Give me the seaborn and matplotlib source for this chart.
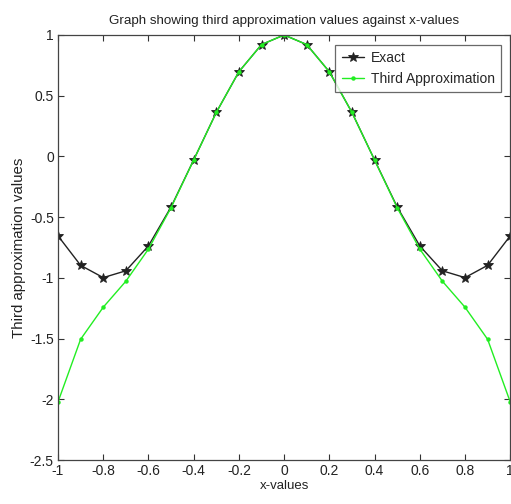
import matplotlib
matplotlib.use("Agg")
import matplotlib.pyplot as plt
import seaborn as sns
import pandas as pd

x_values = [-1.0, -0.9, -0.8, -0.7, -0.6, -0.5, -0.4, -0.3, -0.2, -0.1, 0.0,
            0.1, 0.2, 0.3, 0.4, 0.5, 0.6, 0.7, 0.8, 0.9, 1.0]
exact = [-0.654, -0.897, -0.998, -0.942, -0.737, -0.416, -0.029, 0.362, 0.697, 0.921, 1.0,
         0.921, 0.697, 0.362, -0.029, -0.416, -0.737, -0.942, -0.998, -0.897, -0.654]
third_approx = [-2.022, -1.506, -1.242, -1.028, -0.763, -0.422, -0.030, 0.362, 0.697, 0.921, 1.0,
                0.921, 0.697, 0.362, -0.030, -0.422, -0.763, -1.028, -1.242, -1.506, -2.022]
x_ticks = [-1, -0.8, -0.6, -0.4, -0.2, 0, 0.2, 0.4, 0.6, 0.8, 1]
y_ticks = [-2.5, -2, -1.5, -1, -0.5, 0, 0.5, 1]

sns.set_style("ticks")
plt.rcParams["font.family"] = ["Liberation Sans", "DejaVu Sans"]
plt.rcParams["xtick.direction"] = "in"
plt.rcParams["ytick.direction"] = "in"

df = pd.DataFrame({"x": x_values, "Exact": exact, "Third Approximation": third_approx})

fig = plt.figure(figsize=(5.11, 5.04), dpi=100)
ax = fig.add_axes([0.1135, 0.0873, 0.885, 0.8433])

sns.lineplot(data=df, x="x", y="Exact", ax=ax, color="#222222", lw=1.0,
             marker="*", markersize=7.5, markeredgewidth=0.6, markeredgecolor="#222222",
             label="Exact")
sns.lineplot(data=df, x="x", y="Third Approximation", ax=ax, color="#22ee22", lw=1.0,
             marker="o", markersize=3.2, markeredgewidth=0, label="Third Approximation")

ax.set_xlim(-1, 1)
ax.set_ylim(-2.5, 1)
ax.set_xticks(x_ticks)
ax.set_xticklabels([f"{t:g}" for t in x_ticks])
ax.set_yticks(y_ticks)
ax.set_yticklabels([f"{t:g}" for t in y_ticks])
ax.tick_params(top=True, right=True, length=4, width=0.8, labelsize=10, colors="#333333",
               labelcolor="#222222", pad=3)
for s in ax.spines.values():
    s.set_color("#444444")
    s.set_linewidth(0.9)

ax.set_title("Graph showing third approximation values against x-values", fontsize=9.6,
             pad=8, color="#222222")
ax.set_xlabel("x-values", fontsize=9.5, labelpad=1, color="#222222")
ax.set_ylabel("Third approximation values", fontsize=10.8, labelpad=3, color="#222222")

leg = ax.legend(loc="upper right", bbox_to_anchor=(0.995, 0.993), fontsize=10, frameon=True,
                fancybox=False, edgecolor="#444444", borderpad=0.45, handlelength=1.6,
                handletextpad=0.5, labelspacing=0.5)
leg.get_frame().set_linewidth(0.9)

fig.savefig("out.png", dpi=100)
